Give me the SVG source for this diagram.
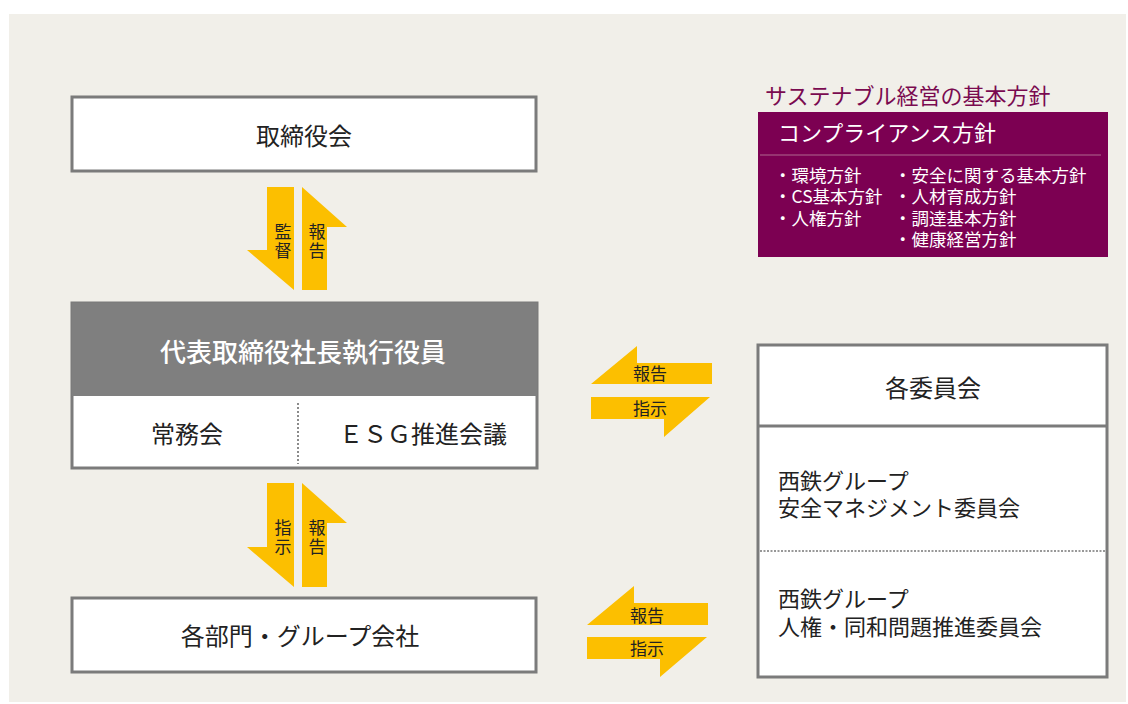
<svg xmlns="http://www.w3.org/2000/svg" width="1128" height="704" viewBox="0 0 1128 704">
<style>
text{font-family:"Noto Sans CJK JP","Noto Sans",sans-serif;fill:#222}
.box{fill:#fff;stroke:#7b7b7b;stroke-width:3}
.arr{fill:#fcbf00}
.lbl{font-size:17px;text-anchor:middle}
.vl{font-size:17px;text-anchor:middle;writing-mode:vertical-rl;letter-spacing:2px}
.big{font-size:24px;text-anchor:middle}
.mid{font-size:22px}
.pl{font-size:17.5px;fill:#fff}
</style>
<rect x="0" y="0" width="1128" height="704" fill="#fff"/>
<rect x="9" y="14" width="1117" height="688" fill="#f1efe9"/>

<g id="connectors">
  <polygon class="arr" points="267,187 294,187 294,290 247,250 267,250"/>
  <polygon class="arr" points="302,187 347,227 327,227 327,290 302,290"/>
  <text class="vl" x="283" y="242">監督</text>
  <text class="vl" x="317" y="242">報告</text>

  <polygon class="arr" points="267,483 294,483 294,587 247,547 267,547"/>
  <polygon class="arr" points="302,483 347,523 327,523 327,587 302,587"/>
  <text class="vl" x="283" y="538">指示</text>
  <text class="vl" x="317" y="538">報告</text>

  <polygon class="arr" points="591,384 637,346 637,363 712,363 712,384"/>
  <polygon class="arr" points="591,397 710,397 664,437 664,419 591,419"/>
  <text class="lbl" x="650" y="380">報告</text>
  <text class="lbl" x="650" y="414.5">指示</text>

  <polygon class="arr" points="587,625 634,586 634,603 708,603 708,625"/>
  <polygon class="arr" points="587,637 707,637 660,677 660,659 587,659"/>
  <text class="lbl" x="647" y="621.5">報告</text>
  <text class="lbl" x="647" y="655">指示</text>
</g>

<g id="board">
  <rect class="box" x="72" y="97" width="464" height="74"/>
  <text class="big" x="304" y="145">取締役会</text>
</g>

<g id="president">
  <rect x="72" y="303" width="465" height="165" fill="#fff" stroke="#7b7b7b" stroke-width="3"/>
  <rect x="72" y="303" width="465" height="93" fill="#7f7f7f"/>
  <text x="303" y="361.5" font-size="26" font-weight="500" text-anchor="middle" style="fill:#fff">代表取締役社長執行役員</text>
  <line x1="298" y1="403" x2="298" y2="464" stroke="#666" stroke-width="1.5" stroke-dasharray="2,2"/>
  <text class="big" x="187" y="442.5">常務会</text>
  <text class="big" x="423" y="442.5">ＥＳＧ推進会議</text>
</g>

<g id="departments">
  <rect class="box" x="72" y="598" width="464" height="74"/>
  <text class="big" x="300" y="645">各部門・グループ会社</text>
</g>

<g id="committees">
  <rect class="box" x="758" y="345" width="349" height="332"/>
  <line x1="758" y1="426" x2="1107" y2="426" stroke="#7b7b7b" stroke-width="3"/>
  <line x1="760" y1="551" x2="1105" y2="551" stroke="#777" stroke-width="1.5" stroke-dasharray="2,1.5"/>
  <text class="big" x="933" y="396.5">各委員会</text>
  <text class="mid" x="778" y="489"><tspan x="778" y="489">西鉄グループ</tspan><tspan x="778" y="516">安全マネジメント委員会</tspan></text>
  <text class="mid" x="778" y="607"><tspan x="778" y="607">西鉄グループ</tspan><tspan x="778" y="635">人権・同和問題推進委員会</tspan></text>
</g>

<g id="policy">
  <text x="765" y="104" font-size="22" style="fill:#7a0a50">サステナブル経営の基本方針</text>
  <rect x="758" y="112" width="350" height="145" fill="#7c0052"/>
  <text x="778" y="141" font-size="22" style="fill:#fff">コンプライアンス方針</text>
  <line x1="760" y1="155" x2="1101" y2="155" stroke="#b0688f" stroke-width="1"/>
  <text class="pl" x="774" y="181.5"><tspan x="774" y="181.5">・環境方針</tspan><tspan x="774" y="203">・CS基本方針</tspan><tspan x="774" y="225">・人権方針</tspan></text>
  <text class="pl" x="894" y="181.5"><tspan x="894" y="181.5">・安全に関する基本方針</tspan><tspan x="894" y="203">・人材育成方針</tspan><tspan x="894" y="225">・調達基本方針</tspan><tspan x="894" y="246">・健康経営方針</tspan></text>
</g>
</svg>
